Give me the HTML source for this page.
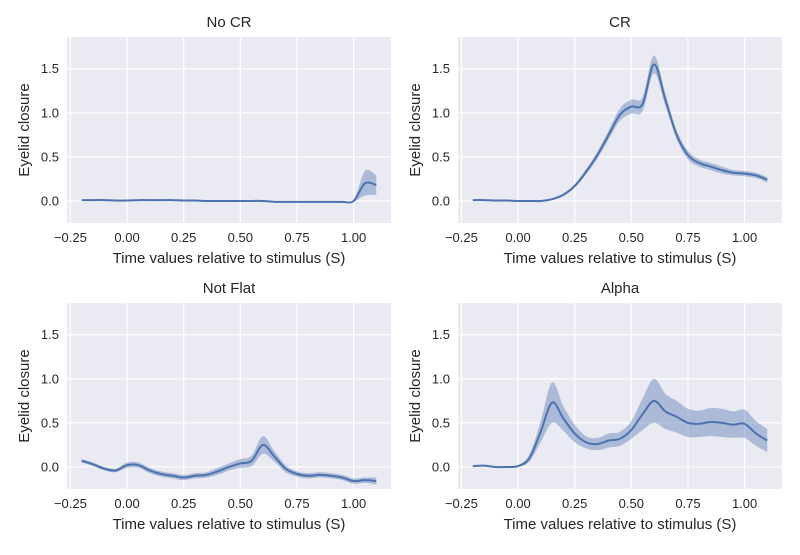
<!DOCTYPE html>
<html><head><meta charset="utf-8"><style>
body{margin:0;background:#fff;}
svg text{font-family:"Liberation Sans",Arial,sans-serif;fill:#262626;}
</style></head><body>
<svg id="c" width="800" height="550"></svg>
<script>
const times=[-0.2,-0.15,-0.1,-0.05,0,0.05,0.1,0.15,0.2,0.25,0.3,0.35,0.4,0.45,0.5,0.55,0.6,0.65,0.7,0.75,0.8,0.85,0.9,0.95,1.0,1.05,1.1];
const xTicks=[-0.25,0,0.25,0.5,0.75,1.0];
const xTickLabels=["\u22120.25","0.00","0.25","0.50","0.75","1.00"];
const yTicks=[0,0.5,1.0,1.5];
const yTickLabels=["0.0","0.5","1.0","1.5"];
const titles=["No CR","CR","Not Flat","Alpha"];
const meanNoCR=[0.01,0.01,0.01,0.005,0.005,0.01,0.01,0.01,0.01,0.005,0.005,0,0,0,0,0,0,-0.01,-0.01,-0.01,-0.01,-0.01,-0.01,-0.01,0,0.2,0.18];
const errNoCR=[0.005,0.005,0.005,0.005,0.005,0.005,0.005,0.005,0.005,0.005,0.005,0.005,0.005,0.005,0.005,0.005,0.005,0.005,0.005,0.005,0.005,0.005,0.005,0.005,0.01,0.14,0.11];
const meanCR=[0.01,0.01,0.005,0.005,0,0,0,0.02,0.07,0.17,0.33,0.52,0.75,0.98,1.07,1.1,1.55,1.15,0.75,0.52,0.43,0.39,0.35,0.32,0.31,0.29,0.24];
const errCR=[0.005,0.005,0.005,0.005,0.005,0.005,0.005,0.01,0.015,0.02,0.03,0.04,0.05,0.07,0.08,0.08,0.1,0.07,0.05,0.05,0.04,0.04,0.04,0.03,0.03,0.03,0.03];
const meanNF=[0.07,0.03,-0.02,-0.04,0.02,0.02,-0.04,-0.08,-0.1,-0.12,-0.1,-0.09,-0.05,0.0,0.04,0.07,0.25,0.12,-0.02,-0.08,-0.1,-0.09,-0.1,-0.12,-0.16,-0.15,-0.16];
const errNF=[0.02,0.02,0.02,0.02,0.03,0.03,0.03,0.03,0.03,0.03,0.03,0.03,0.04,0.04,0.05,0.06,0.1,0.06,0.04,0.03,0.03,0.03,0.03,0.03,0.03,0.03,0.04];
const meanAlpha=[0.01,0.015,0,0,0.01,0.1,0.4,0.73,0.55,0.38,0.28,0.26,0.3,0.32,0.42,0.6,0.75,0.63,0.57,0.5,0.49,0.51,0.5,0.48,0.49,0.38,0.3];
const errAlpha=[0.005,0.005,0.005,0.005,0.01,0.04,0.12,0.23,0.14,0.1,0.07,0.07,0.08,0.08,0.1,0.18,0.25,0.2,0.18,0.16,0.15,0.16,0.16,0.15,0.16,0.14,0.13];
const means=[meanNoCR,meanCR,meanNF,meanAlpha];
const errs=[errNoCR,errCR,errNF,errAlpha];
const panels=[{l:67,r:391,t:37,b:223},{l:458,r:782,t:37,b:223},{l:67,r:391,t:303,b:489},{l:458,r:782,t:303,b:489}];
const xmin=-0.265,xmax=1.165,ymin=-0.25,ymax=1.86;
const NS="http://www.w3.org/2000/svg";
const svg=document.getElementById('c');
function mk(tag,attrs,parent){const e=document.createElementNS(NS,tag);for(const k in attrs)e.setAttribute(k,attrs[k]);(parent||svg).appendChild(e);return e;}
function smooth(pts){let d="M"+pts[0][0]+","+pts[0][1];for(let i=0;i<pts.length-1;i++){const p0=pts[i-1]||pts[i],p1=pts[i],p2=pts[i+1],p3=pts[i+2]||p2;d+=" C"+(p1[0]+(p2[0]-p0[0])/6)+","+(p1[1]+(p2[1]-p0[1])/6)+" "+(p2[0]-(p3[0]-p1[0])/6)+","+(p2[1]-(p3[1]-p1[1])/6)+" "+p2[0]+","+p2[1];}return d;}
panels.forEach((p,i)=>{
  const X=v=>p.l+(v-xmin)/(xmax-xmin)*(p.r-p.l);
  const Y=v=>p.b-(v-ymin)/(ymax-ymin)*(p.b-p.t);
  const g=mk('g',{});
  
  
  const bg=mk('rect',{x:p.l,y:p.t,width:p.r-p.l,height:p.b-p.t,fill:'#eaeaf2'},g);
  
  
  xTicks.forEach((t,j)=>{
    const ln=mk('line',{x1:X(t),x2:X(t),y1:p.t,y2:p.b,stroke:'#fff','stroke-width':1.2},g);
    
    
    const tx=mk('text',{x:X(t),y:p.b+19,'font-size':13,'text-anchor':'middle'},g);
    tx.textContent=xTickLabels[j];
    
    
  });
  yTicks.forEach((t,j)=>{
    const ln=mk('line',{x1:p.l,x2:p.r,y1:Y(t),y2:Y(t),stroke:'#fff','stroke-width':1.2},g);
    
    
    const tx=mk('text',{x:p.l-8,y:Y(t)+4.5,'font-size':13,'text-anchor':'end'},g);
    tx.textContent=yTickLabels[j];
    
    
  });
  const up=times.map((t,k)=>[X(t),Y(means[i][k]+errs[i][k])]);
  const lo=times.map((t,k)=>[X(t),Y(means[i][k]-errs[i][k])]).reverse();
  const band=mk('path',{d:smooth(up)+" L"+smooth(lo).slice(1)+" Z",fill:'#4c72b0','fill-opacity':0.4,stroke:'none'},g);
  
  
  const line=mk('path',{d:smooth(times.map((t,k)=>[X(t),Y(means[i][k])])),fill:'none',stroke:'#4c72b0','stroke-width':2},g);
  
  
  const ti=mk('text',{x:(p.l+p.r)/2,y:p.t-10,'font-size':15,'text-anchor':'middle'},g);
  ti.textContent=titles[i];
  
  
  const xl=mk('text',{x:(p.l+p.r)/2,y:p.b+40,'font-size':15,'text-anchor':'middle'},g);
  xl.textContent='Time values relative to stimulus (S)';
  
  
  const yx=p.l-38,yy=(p.t+p.b)/2;
  const yl=mk('text',{x:yx,y:yy,'font-size':15,'text-anchor':'middle',transform:'rotate(-90 '+yx+' '+yy+')'},g);
  yl.textContent='Eyelid closure';
  
  
});
</script>
</body></html>
